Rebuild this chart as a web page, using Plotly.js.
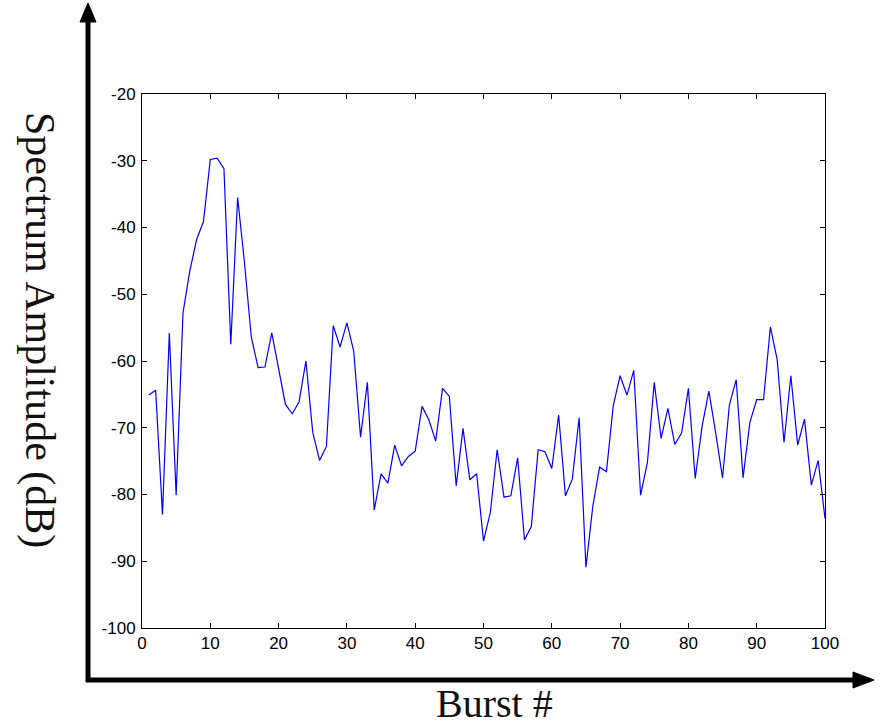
<!DOCTYPE html>
<html>
<head>
<meta charset="utf-8">
<script src="https://cdn.plot.ly/plotly-3.0.1.min.js"></script>
<style>html,body{margin:0;padding:0;background:#fff;}#chart{width:884px;height:726px;}</style>
</head>
<body>
<div id="chart"></div>
<script>
// Burst numbers 1..100
const burst = [];
for (let i = 1; i <= 100; i++) burst.push(i);

// Spectrum amplitude (dB)
const amplitude = [
  -65.1, -64.4, -83.0, -55.8, -80.1, -52.8, -46.5, -41.8, -39.1, -29.8,
  -29.6, -31.2, -57.5, -35.5, -45.2, -56.4, -61.0, -60.9, -55.8, -61.0,
  -66.5, -67.9, -66.1, -60.0, -70.7, -74.9, -72.8, -54.7, -57.9, -54.3,
  -58.5, -71.4, -63.2, -82.3, -76.9, -78.3, -72.6, -75.7, -74.3, -73.5,
  -66.8, -68.8, -72.0, -64.1, -65.3, -78.7, -70.1, -77.8, -76.9, -87.0,
  -82.7, -73.3, -80.4, -80.2, -74.5, -86.8, -84.8, -73.3, -73.6, -76.1,
  -68.1, -80.2, -77.7, -68.5, -90.9, -81.8, -75.9, -76.6, -66.7, -62.2,
  -65.1, -61.4, -80.1, -75.2, -63.2, -71.6, -67.1, -72.5, -70.8, -64.1,
  -77.6, -69.8, -64.5, -70.8, -77.5, -66.6, -62.8, -77.5, -69.2, -65.8,
  -65.8, -54.9, -59.8, -72.2, -62.2, -72.6, -68.7, -78.6, -74.9, -83.6
];

const xTicks = [0, 10, 20, 30, 40, 50, 60, 70, 80, 90, 100];
const yTicks = [-100, -90, -80, -70, -60, -50, -40, -30, -20];

const xTitle = "Burst #";
const yTitle = "Spectrum Amplitude (dB)";

// plot area in pixels
const W = 884, H = 726, L = 142, R = 59, T = 94, B = 98;
const pw = W - L - R, ph = H - T - B;
const px = v => (v - L) / pw;          // pixel x -> paper x
const py = v => (H - B - v) / ph;      // pixel y -> paper y

const serif = "Liberation Serif, Times New Roman, serif";

const data = [{
  x: burst, y: amplitude, type: 'scatter', mode: 'lines',
  line: {color: '#0000ff', width: 1.2},
  hoverinfo: 'skip'
}];

const axisCommon = {
  showgrid: false, zeroline: false, showline: true, linecolor: '#000', linewidth: 1,
  mirror: 'ticks', ticks: 'inside', ticklen: 5, tickcolor: '#000', tickwidth: 1,
  tickfont: {family: 'Liberation Sans, Arial, Helvetica, sans-serif', size: 17, color: '#000'}
};

const layout = {
  width: W, height: H,
  margin: {l: L, r: R, t: T, b: B, pad: 0},
  paper_bgcolor: '#fff', plot_bgcolor: '#fff',
  showlegend: false,
  xaxis: Object.assign({}, axisCommon, {range: [0, 100], tickvals: xTicks, ticktext: xTicks.map(String)}),
  yaxis: Object.assign({}, axisCommon, {range: [-100, -20], tickvals: yTicks, ticktext: yTicks.map(String), ticklabelstandoff: 2}),
  shapes: [
    // vertical outer axis arrow
    {type: 'line', xref: 'paper', yref: 'paper', x0: px(88), x1: px(88), y0: py(682), y1: py(18),
     line: {color: '#000', width: 5}},
    {type: 'path', xref: 'paper', yref: 'paper',
     path: `M ${px(80)} ${py(22)} L ${px(88)} ${py(3)} L ${px(96)} ${py(22)} Z`,
     fillcolor: '#000', line: {color: '#000', width: 1}},
    // horizontal outer axis arrow
    {type: 'line', xref: 'paper', yref: 'paper', x0: px(86), x1: px(858), y0: py(680), y1: py(680),
     line: {color: '#000', width: 5}},
    {type: 'path', xref: 'paper', yref: 'paper',
     path: `M ${px(853)} ${py(672)} L ${px(874)} ${py(680)} L ${px(853)} ${py(688)} Z`,
     fillcolor: '#000', line: {color: '#000', width: 1}}
  ],
  annotations: [
    {text: yTitle, xref: 'paper', yref: 'paper', x: px(40), y: py(330), textangle: 90,
     showarrow: false, xanchor: 'center', yanchor: 'middle',
     font: {family: serif, size: 42, color: '#111'}},
    {text: xTitle, xref: 'paper', yref: 'paper', x: px(494), y: py(703),
     showarrow: false, xanchor: 'center', yanchor: 'middle',
     font: {family: serif, size: 40, color: '#111'}}
  ]
};

Plotly.newPlot('chart', data, layout, {staticPlot: true, displayModeBar: false});
</script>
</body>
</html>
